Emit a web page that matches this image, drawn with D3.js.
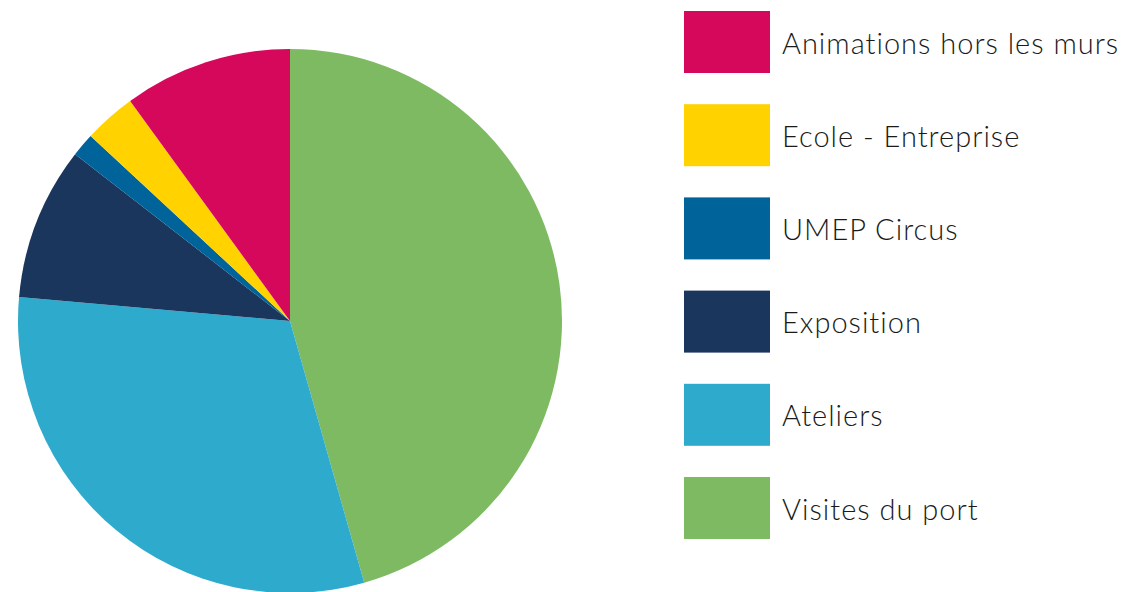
<!DOCTYPE html>
<html>
<head>
<meta charset="utf-8">
<script src="https://cdn.jsdelivr.net/npm/d3@7"></script>
<style>
  html, body { margin: 0; padding: 0; background: #fff; }
</style>
</head>
<body>
<svg id="chart" width="1132" height="592"></svg>
<script>
// slices in drawing order, clockwise from 12 o'clock
const categories = ["Visites du port", "Ateliers", "Exposition", "UMEP Circus", "Ecole - Entreprise", "Animations hors les murs"]
const values = [45.6, 30.8, 9.1, 1.4, 3.1, 10.0]
const colors = ["#7dba62", "#2eabcc", "#1a365d", "#006399", "#ffd200", "#d6085c"]

const svg = d3.select("#chart")

// pie
const cx = 290, cy = 321, radius = 272
const pie = d3.pie().sort(null).value(d => d.value)
const arc = d3.arc().innerRadius(0).outerRadius(radius)
const data = categories.map((c, i) => ({ name: c, value: values[i], color: colors[i] }))

svg.append("g")
  .attr("transform", `translate(${cx},${cy})`)
  .selectAll("path")
  .data(pie(data))
  .join("path")
  .attr("d", arc)
  .attr("fill", d => d.data.color)

// legend, listed bottom-up relative to the slices
const legendData = data.slice().reverse()
const legend = svg.append("g").attr("transform", "translate(684,11)")
const row = legend.selectAll("g")
  .data(legendData)
  .join("g")
  .attr("transform", (d, i) => `translate(0,${i * 93.2})`)

row.append("rect")
  .attr("width", 86)
  .attr("height", 62)
  .attr("fill", d => d.color)

row.append("text")
  .attr("x", 98)
  .attr("y", 31)
  .attr("dominant-baseline", "central")
  .attr("font-family", "Lato, 'Open Sans', sans-serif")
  .attr("font-weight", 300)
  .attr("font-size", "29px")
  .attr("letter-spacing", "1px")
  .attr("fill", "#1a1a1a")
  .text(d => d.name)
</script>
</body>
</html>
